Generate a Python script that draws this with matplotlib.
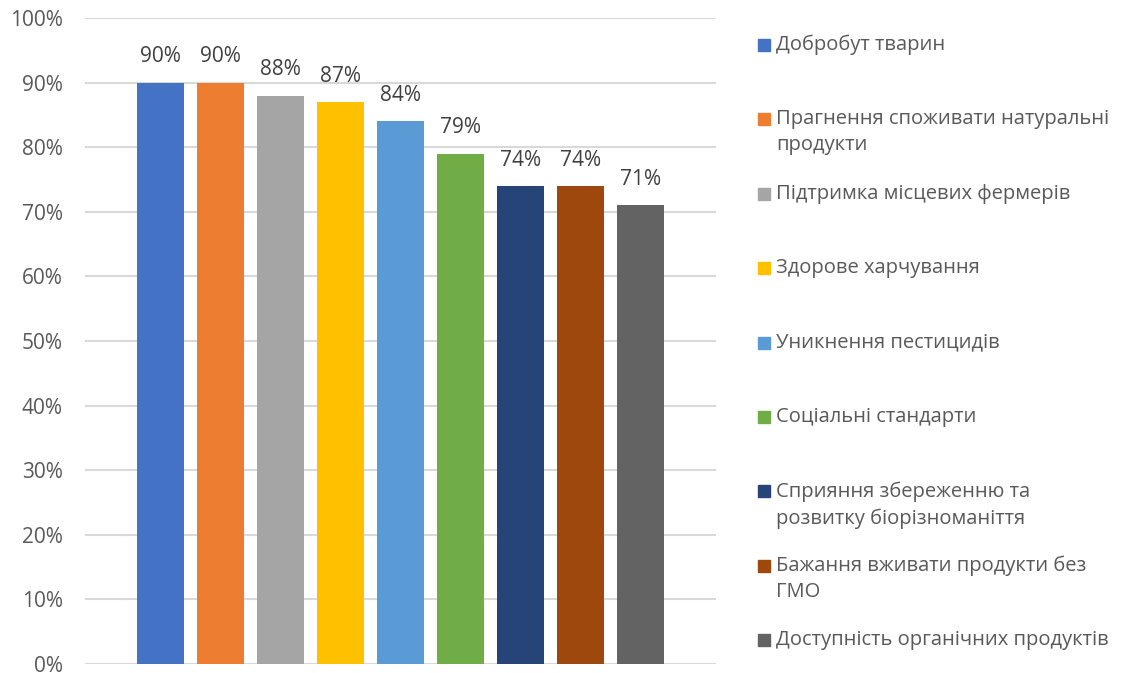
import matplotlib.pyplot as plt
from matplotlib.patches import Rectangle

plt.rcParams['font.family'] = ['Open Sans', 'DejaVu Sans']

categories = [
    "Добробут тварин",
    "Прагнення споживати натуральні\nпродукти",
    "Підтримка місцевих фермерів",
    "Здорове харчування",
    "Уникнення пестицидів",
    "Соціальні стандарти",
    "Сприяння збереженню та\nрозвитку біорізноманіття",
    "Бажання вживати продукти без\nГМО",
    "Доступність органічних продуктів",
]
values = [90, 90, 88, 87, 84, 79, 74, 74, 71]
colors = ["#4472C4", "#ED7D31", "#A5A5A5", "#FFC000", "#5B9BD5",
          "#70AD47", "#264478", "#9E480E", "#636363"]
yticks = [0, 10, 20, 30, 40, 50, 60, 70, 80, 90, 100]

W, H = 1129, 673
fig = plt.figure(figsize=(W / 100, H / 100), dpi=100)
ax = fig.add_axes([85 / W, 1 - 664 / H, (716 - 85) / W, (664 - 18) / H])

x = list(range(len(values)))
bars = ax.bar(x, values, width=0.78, color=colors, zorder=3)
for xi, v in zip(x, values):
    ax.annotate(f"{v}%", (xi, v), xytext=(0, 11), textcoords="offset points",
                ha="center", va="bottom", fontsize=15, color="#404040")

ax.set_ylim(0, 100)
ax.set_xlim(-1.26, len(values) - 1 + 1.26)
ax.set_yticks(yticks)
ax.set_yticklabels([f"{t}%" for t in yticks], fontsize=15, color="#595959")
ax.set_xticks([])
ax.tick_params(axis="y", length=0, pad=16)
ax.grid(axis="y", color="#d9d9d9", linewidth=1.5, zorder=0)
for s in ax.spines.values():
    s.set_visible(False)

# legend drawn by hand, one entry per bar
for i, (lab, col) in enumerate(zip(categories, colors)):
    yc = 45 + i * 74.4
    fig.patches.append(Rectangle((758 / W, 1 - (yc + 6) / H), 12 / W, 12 / H,
                                 transform=fig.transFigure, color=col))
    fig.text(776 / W, 1 - (yc - 10) / H, lab, ha="left", va="top",
             fontsize=14.5, color="#595959", linespacing=1.4)

fig.savefig("out.png", dpi=100)
